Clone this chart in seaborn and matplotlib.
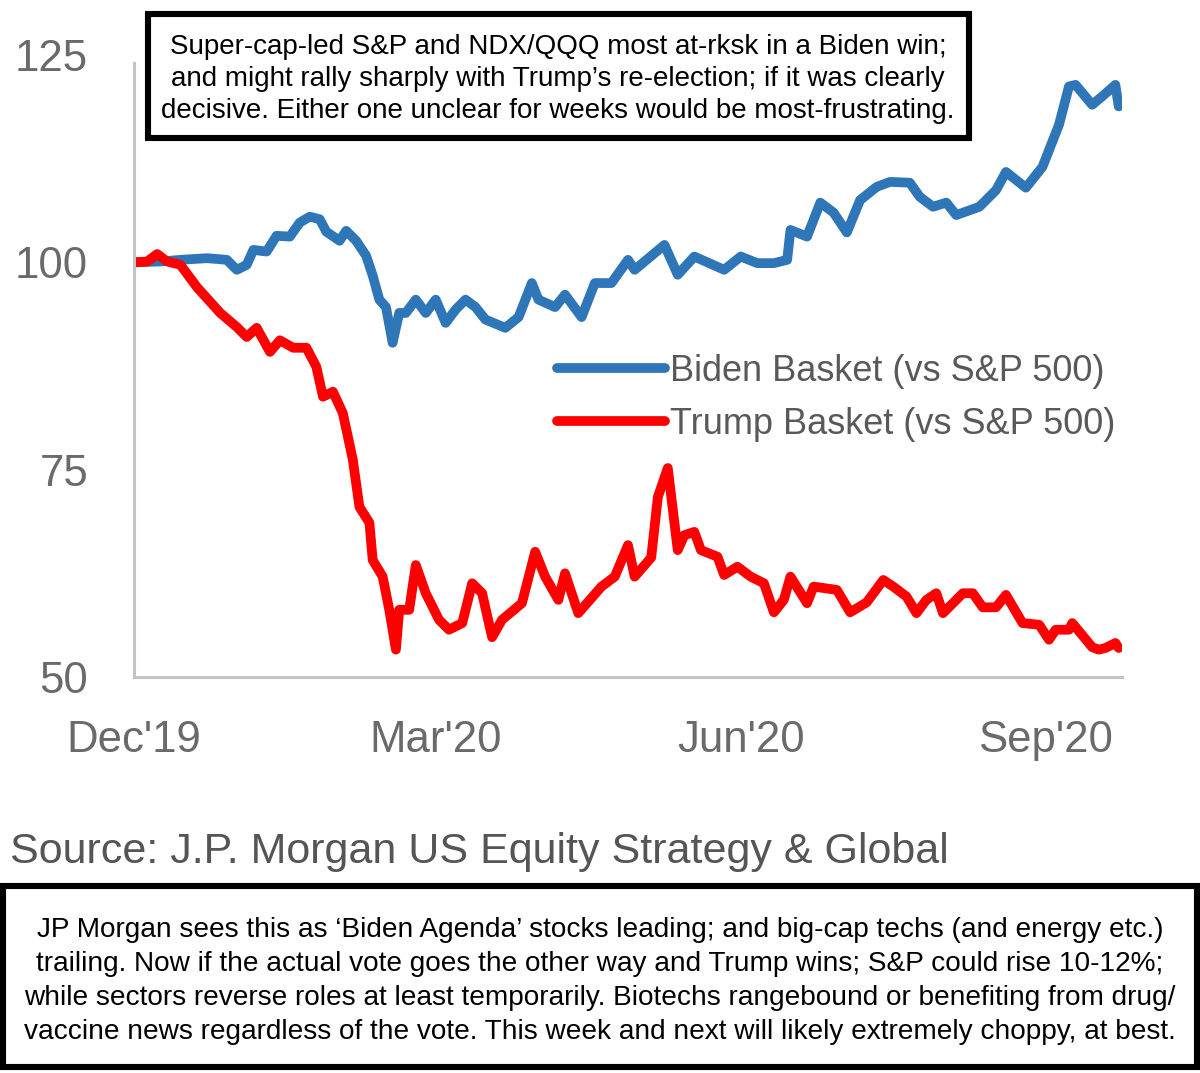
import matplotlib
matplotlib.use("Agg")
import matplotlib.pyplot as plt
import matplotlib.dates as mdates
from matplotlib.patches import Rectangle
import pandas as pd
import seaborn as sns

biden_dates = [
    "2019-12-01", "2019-12-09", "2019-12-15", "2019-12-23", "2019-12-29",
    "2020-01-01", "2020-01-04", "2020-01-06", "2020-01-10", "2020-01-13",
    "2020-01-17", "2020-01-20", "2020-01-23", "2020-01-26", "2020-01-28",
    "2020-02-01", "2020-02-03", "2020-02-06", "2020-02-09", "2020-02-11",
    "2020-02-13", "2020-02-15", "2020-02-17", "2020-02-19", "2020-02-21",
    "2020-02-24", "2020-02-27", "2020-03-01", "2020-03-04", "2020-03-07",
    "2020-03-10", "2020-03-13", "2020-03-16", "2020-03-22", "2020-03-26",
    "2020-03-30", "2020-04-01", "2020-04-06", "2020-04-09", "2020-04-14",
    "2020-04-18", "2020-04-23", "2020-04-28", "2020-04-30", "2020-05-09",
    "2020-05-13", "2020-05-18", "2020-05-27", "2020-06-01", "2020-06-06",
    "2020-06-11", "2020-06-15", "2020-06-16", "2020-06-21", "2020-06-25",
    "2020-06-29", "2020-07-03", "2020-07-07", "2020-07-12", "2020-07-16",
    "2020-07-22", "2020-07-25", "2020-07-29", "2020-08-02", "2020-08-05",
    "2020-08-12", "2020-08-17", "2020-08-20", "2020-08-26", "2020-08-31",
    "2020-09-05", "2020-09-08", "2020-09-10", "2020-09-15", "2020-09-18",
    "2020-09-22", "2020-09-23",
]
biden_values = [
    100.0, 100.1, 100.3, 100.5, 100.3, 99.1, 99.7, 101.5, 101.3, 103.2,
    103.1, 104.8, 105.5, 105.2, 103.7, 102.6, 103.8, 102.6, 100.8, 98.4,
    95.5, 94.6, 90.3, 93.9, 93.9, 95.5, 93.9, 95.5, 92.7, 94.3,
    95.5, 94.6, 93.1, 92.1, 93.4, 97.5, 95.5, 94.6, 96.1, 93.4,
    97.5, 97.5, 100.3, 99.1, 102.1, 98.5, 100.7, 99.1, 100.7, 99.9,
    99.9, 100.3, 103.9, 103.1, 107.2, 106.0, 103.6, 107.5, 109.1, 109.7,
    109.6, 107.9, 106.7, 107.2, 105.7, 106.7, 108.7, 110.9, 109.0, 111.5,
    116.6, 121.2, 121.4, 119.0, 120.0, 121.4, 118.8,
]

trump_dates = [
    "2019-12-01", "2019-12-05", "2019-12-08", "2019-12-11", "2019-12-15",
    "2019-12-20", "2019-12-27", "2020-01-01", "2020-01-04", "2020-01-07",
    "2020-01-11", "2020-01-14", "2020-01-18", "2020-01-22", "2020-01-25",
    "2020-01-27", "2020-01-30", "2020-02-02", "2020-02-05", "2020-02-07",
    "2020-02-10", "2020-02-11", "2020-02-14", "2020-02-16", "2020-02-18",
    "2020-02-19", "2020-02-22", "2020-02-24", "2020-02-27", "2020-03-02",
    "2020-03-05", "2020-03-09", "2020-03-12", "2020-03-15", "2020-03-18",
    "2020-03-21", "2020-03-27", "2020-03-31", "2020-04-03", "2020-04-07",
    "2020-04-09", "2020-04-13", "2020-04-20", "2020-04-24", "2020-04-28",
    "2020-04-30", "2020-05-05", "2020-05-07", "2020-05-10", "2020-05-13",
    "2020-05-15", "2020-05-18", "2020-05-20", "2020-05-25", "2020-05-27",
    "2020-05-31", "2020-06-04", "2020-06-08", "2020-06-11", "2020-06-14",
    "2020-06-16", "2020-06-21", "2020-06-23", "2020-06-30", "2020-07-04",
    "2020-07-09", "2020-07-14", "2020-07-17", "2020-07-21", "2020-07-24",
    "2020-07-27", "2020-07-30", "2020-08-01", "2020-08-07", "2020-08-10",
    "2020-08-13", "2020-08-17", "2020-08-20", "2020-08-25", "2020-08-30",
    "2020-09-02", "2020-09-04", "2020-09-08", "2020-09-09", "2020-09-15",
    "2020-09-17", "2020-09-19", "2020-09-22", "2020-09-23",
]
trump_values = [
    100.0, 100.1, 101.0, 100.1, 99.7, 97.0, 93.9, 92.2, 91.0, 92.1,
    89.2, 90.6, 89.7, 89.7, 87.4, 83.8, 84.4, 81.8, 76.2, 70.5,
    68.6, 64.1, 62.1, 58.1, 53.3, 58.1, 58.1, 63.5, 60.1, 56.9,
    55.7, 56.5, 61.3, 60.1, 54.8, 56.9, 58.9, 65.1, 62.1, 59.3,
    62.5, 57.7, 60.9, 62.1, 65.9, 62.1, 64.4, 71.7, 75.2, 65.3,
    67.1, 67.5, 65.3, 64.5, 62.3, 63.3, 62.1, 61.3, 57.8, 59.3,
    62.1, 58.9, 60.9, 60.5, 57.8, 59.0, 61.7, 60.9, 59.7, 57.7,
    59.3, 60.1, 57.7, 60.1, 60.1, 58.4, 58.4, 59.9, 56.5, 56.3,
    54.5, 55.7, 55.7, 56.5, 53.6, 53.3, 53.5, 54.1, 53.5,
]

series_names = ["Biden Basket (vs S&P 500)", "Trump Basket (vs S&P 500)"]
series_colors = ["#2E76B8", "#FF0000"]
y_ticks = [50, 75, 100, 125]

top_note = (
    "Super-cap-led S&P and NDX/QQQ most at-rksk in a Biden win;\n"
    "and might rally sharply with Trump\u2019s re-election; if it was clearly\n"
    "decisive. Either one unclear for weeks would be most-frustrating."
)
source_text = "Source: J.P. Morgan US Equity Strategy & Global"
bottom_note = (
    "JP Morgan sees this as \u2018Biden Agenda\u2019 stocks leading; and big-cap techs (and energy etc.)\n"
    "trailing. Now if the actual vote goes the other way and Trump wins; S&P could rise 10-12%;\n"
    "while sectors reverse roles at least temporarily. Biotechs rangebound or benefiting from drug/\n"
    "vaccine news regardless of the vote. This week and next will likely extremely choppy, at best."
)

W, H = 1200, 1073
FONT = ["Liberation Sans", "DejaVu Sans"]
GREY = "#6a6a6a"
SPINE = "#c4c4c4"


def fx(px):
    return px / W


def fy(py):
    return 1 - py / H


df = pd.concat([
    pd.DataFrame({"date": pd.to_datetime(biden_dates), "value": biden_values,
                  "series": series_names[0]}),
    pd.DataFrame({"date": pd.to_datetime(trump_dates), "value": trump_values,
                  "series": series_names[1]}),
])

sns.set_style("white")
plt.rcParams["font.family"] = FONT

fig = plt.figure(figsize=(W / 100, H / 100), dpi=100)
ax = fig.add_axes([fx(134), fy(677), fx(1122) - fx(134), fy(55) - fy(677)])

sns.lineplot(
    data=df,
    x="date",
    y="value",
    hue="series",
    hue_order=series_names,
    palette=series_colors,
    linewidth=7,
    ax=ax,
)
for line in ax.get_lines():
    line.set_solid_capstyle("round")
    line.set_solid_joinstyle("round")

ax.set_xlim(pd.Timestamp("2019-12-01"), pd.Timestamp("2020-09-24"))
ax.set_ylim(50, 125)
ax.set_yticks(y_ticks)
ax.set_xlabel("")
ax.set_ylabel("")

ax.xaxis.set_major_locator(mdates.MonthLocator(bymonth=[12, 3, 6, 9]))
ax.xaxis.set_major_formatter(mdates.DateFormatter("%b'%y"))

for side in ["top", "right"]:
    ax.spines[side].set_visible(False)
for side in ["left", "bottom"]:
    ax.spines[side].set_color(SPINE)
    ax.spines[side].set_linewidth(2.2)
ax.spines["left"].set_bounds(50, 124)

ax.tick_params(axis="y", length=0, pad=33, labelsize=31.5, labelcolor=GREY)
ax.tick_params(axis="x", length=11, width=2.2, color=SPINE, pad=20,
               labelsize=31.5, labelcolor=GREY, direction="out")

leg = ax.legend(
    loc="center left",
    bbox_to_anchor=(fx(557), fy(398)),
    bbox_transform=fig.transFigure,
    frameon=False,
    fontsize=26,
    labelcolor="#595959",
    handlelength=3.0,
    handletextpad=0.14,
    labelspacing=0.5,
    borderpad=0,
    borderaxespad=0,
)

# annotation boxes
fig.add_artist(Rectangle((fx(148), fy(138)), fx(969) - fx(148), fy(14) - fy(138),
                         transform=fig.transFigure, facecolor="white",
                         edgecolor="black", linewidth=4.4, zorder=5))
fig.text(fx(558), fy(79), top_note, ha="center", va="center", fontsize=20,
         linespacing=1.29, color="black", zorder=6)

fig.text(fx(10), fy(852), source_text, ha="left", va="center", fontsize=31,
         color="#555555")

fig.add_artist(Rectangle((fx(3), fy(1067)), fx(1197) - fx(3), fy(886) - fy(1067),
                         transform=fig.transFigure, facecolor="white",
                         edgecolor="black", linewidth=4.4, zorder=5))
fig.text(fx(600), fy(981), bottom_note, ha="center", va="center", fontsize=20.2,
         linespacing=1.39, color="black", zorder=6)

fig.savefig("out.png", dpi=100, facecolor="white")
plt.close(fig)
